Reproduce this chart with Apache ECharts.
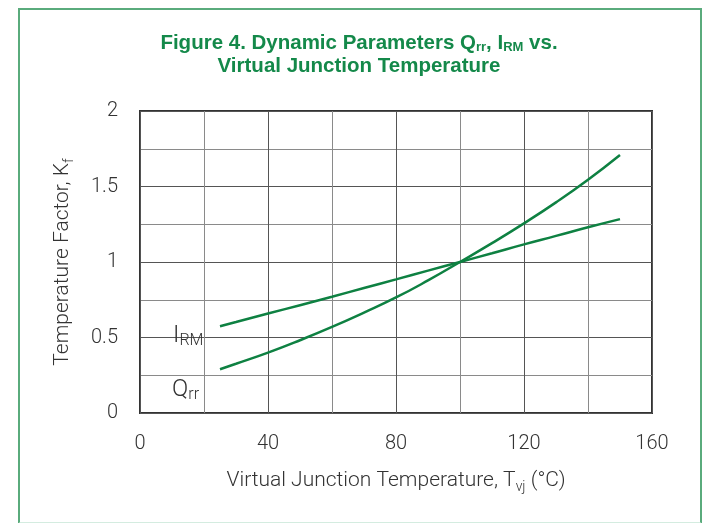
<!DOCTYPE html>
<html>
<head>
<meta charset="utf-8">
<script src="https://cdn.jsdelivr.net/npm/echarts@6/dist/echarts.min.js"></script>
<style>
html,body{margin:0;padding:0;background:#fff;}
#frame{position:absolute;left:18px;top:8px;width:680px;height:512px;border:2px solid #5aab7c;border-bottom:2px solid #d4ece0;}
#chart{position:absolute;left:0;top:0;width:707px;height:523px;}
</style>
</head>
<body>
<div id="frame"></div>
<div id="chart"></div>
<script>
// Data
var temps = [25, 30, 40, 50, 60, 70, 80, 90, 100, 110, 120, 130, 140, 150];
var qrr   = [0.290, 0.326, 0.400, 0.482, 0.570, 0.665, 0.765, 0.878, 1.0, 1.125, 1.256, 1.395, 1.545, 1.709];
var irm   = [0.575, 0.603, 0.659, 0.714, 0.770, 0.828, 0.885, 0.943, 1.0, 1.058, 1.117, 1.173, 1.230, 1.284];
var xTicks = [0, 40, 80, 120, 160];
var yTicks = [0, 0.5, 1, 1.5, 2];

function pairs(xs, ys){ return xs.map(function(x,i){return [x, ys[i]];}); }

var GREEN_LINE = '#0e8142';
var GREEN_TITLE = '#14894a';
var TXT = '#333';
var FONT = 'Roboto, "Liberation Sans", sans-serif';
var TFONT = '"Liberation Sans", Arial, sans-serif';

var chart = echarts.init(document.getElementById('chart'));
chart.setOption({
  animation: false,
  grid: {left: 140, right: 55, top: 111, bottom: 110, show: true, borderColor: '#333', borderWidth: 2, backgroundColor: 'transparent'},
  xAxis: {
    type: 'value', min: xTicks[0], max: xTicks[xTicks.length-1], interval: 40,
    axisLine: {show: false}, axisTick: {show: false},
    axisLabel: {margin: 21, fontSize: 20, color: TXT, fontFamily: FONT, fontWeight: 300},
    splitLine: {show: true, lineStyle: {color: '#555', width: 1}},
    minorTick: {show: false, splitNumber: 2},
    minorSplitLine: {show: true, lineStyle: {color: '#8a8a8a', width: 1}},
    name: 'Virtual Junction Temperature, T{s|vj} (°C)',
    nameLocation: 'middle', nameGap: 54,
    nameTextStyle: {fontSize: 21, color: TXT, fontFamily: FONT, fontWeight: 300,
      rich: {s: {fontSize: 14, color: TXT, fontFamily: FONT, fontWeight: 300, padding: [13,0,0,0]}}}
  },
  yAxis: {
    type: 'value', min: yTicks[0], max: yTicks[yTicks.length-1], interval: 0.5,
    axisLine: {show: false}, axisTick: {show: false},
    axisLabel: {margin: 22, fontSize: 20, color: TXT, fontFamily: FONT, fontWeight: 300},
    splitLine: {show: true, lineStyle: {color: '#555', width: 1}},
    minorTick: {show: false, splitNumber: 2},
    minorSplitLine: {show: true, lineStyle: {color: '#8a8a8a', width: 1}},
    name: 'Temperature Factor, K{s|f}',
    nameLocation: 'middle', nameGap: 64, nameRotate: 90,
    nameTextStyle: {fontSize: 21, color: TXT, fontFamily: FONT, fontWeight: 300,
      rich: {s: {fontSize: 14, color: TXT, fontFamily: FONT, fontWeight: 300, padding: [13,0,0,0]}}}
  },
  series: [
    {name: 'Qrr', type: 'line', data: pairs(temps, qrr), smooth: true, showSymbol: false, symbol: 'none',
     lineStyle: {color: GREEN_LINE, width: 2.5}},
    {name: 'IRM', type: 'line', data: pairs(temps, irm), smooth: true, showSymbol: false, symbol: 'none',
     lineStyle: {color: GREEN_LINE, width: 2.5}}
  ],
  graphic: [
    {type: 'text', x: 359, y: 32, z: 10,
     style: {text: 'Figure 4. Dynamic Parameters Q{s|rr}, I{s|RM} vs.', align: 'center', verticalAlign: 'top',
       fill: GREEN_TITLE, font: 'bold 20.5px ' + TFONT,
       rich: {s: {fontSize: 13, fontWeight: 'bold', fontFamily: TFONT, fill: GREEN_TITLE, padding: [9,0,0,0]}}}},
    {type: 'text', x: 359, y: 56, z: 10,
     style: {text: 'Virtual Junction Temperature', align: 'center', verticalAlign: 'top',
       fill: GREEN_TITLE, font: 'bold 20.5px ' + TFONT}},
    {type: 'text', x: 173, y: 323, z: 10,
     style: {text: 'I{s|RM}', fill: TXT, font: '300 24px ' + FONT,
       rich: {s: {fontSize: 16, fontWeight: 300, fontFamily: FONT, fill: TXT, padding: [10,0,0,0]}}}},
    {type: 'text', x: 172, y: 377, z: 10,
     style: {text: 'Q{s|rr}', fill: TXT, font: '300 24px ' + FONT,
       rich: {s: {fontSize: 16, fontWeight: 300, fontFamily: FONT, fill: TXT, padding: [10,0,0,0]}}}}
  ]
});
</script>
</body>
</html>
